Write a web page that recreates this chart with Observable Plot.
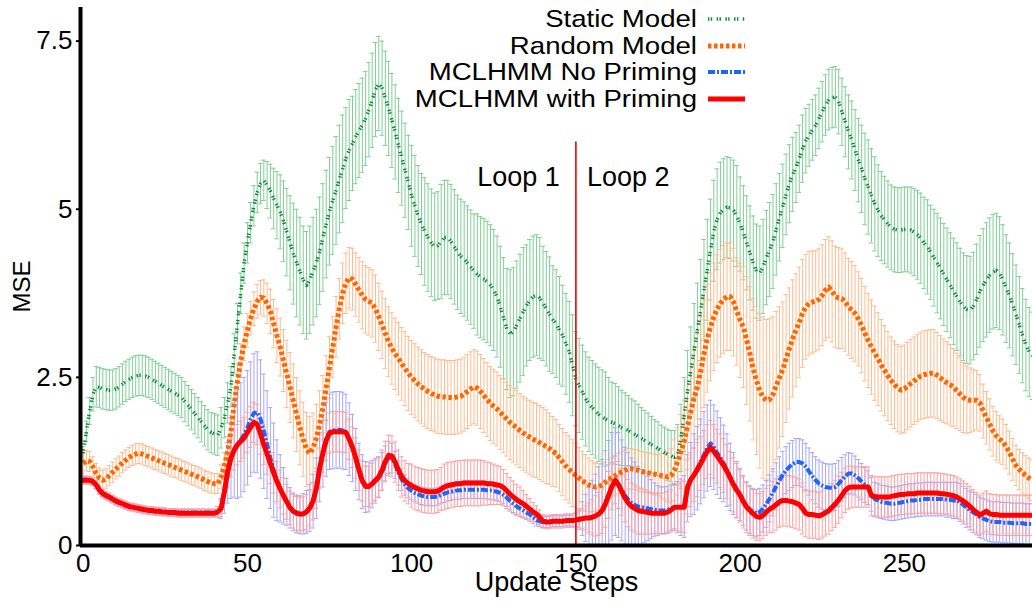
<!DOCTYPE html>
<html><head><meta charset="utf-8">
<script src="https://cdn.jsdelivr.net/npm/d3@7"></script>
<script src="https://cdn.jsdelivr.net/npm/@observablehq/plot@0.6"></script>
<style>
html,body{margin:0;padding:0;background:#fff;}
#wrap{position:relative;width:1032px;height:602px;font-family:"Liberation Sans",Arial,sans-serif;}
#legend{position:absolute;left:0;top:0;pointer-events:none;}
</style></head><body><div id="wrap"></div>
<script>
// ---------- data ----------
const steps = d3.range(0, 290);
const xTicks = [0, 50, 100, 150, 200, 250];
const yTicks = [0, 2.5, 5, 7.5];
const seriesNames = ["Static Model", "Random Model", "MCLHMM No Priming", "MCLHMM with Priming"];
const loopLabels = ["Loop 1", "Loop 2"];
const loopBoundary = 150;
const loopLineTop = 6.0;
const loopLabelY = 5.48;
const xLabel = "Update Steps";
const yLabel = "MSE";

const staticMean = [
1.37,1.7,2.0,2.25,2.36,2.35,2.33,2.32,2.31,2.31,
2.33,2.36,2.4,2.44,2.47,2.5,2.52,2.53,2.53,2.52,
2.5,2.47,2.44,2.41,2.38,2.35,2.32,2.29,2.26,2.23,
2.2,2.14,2.08,2.02,1.96,1.9,1.84,1.78,1.72,1.68,
1.66,1.64,1.75,1.9,2.12,2.36,2.85,3.3,3.75,4.2,
4.5,4.8,5.05,5.25,5.38,5.43,5.36,5.27,5.16,5.06,
4.96,4.82,4.66,4.5,4.34,4.2,4.08,3.95,3.87,3.95,
4.08,4.2,4.38,4.58,4.78,4.97,5.13,5.28,5.45,5.6,
5.76,5.88,5.98,6.08,6.17,6.25,6.35,6.48,6.62,6.78,
6.87,6.8,6.65,6.5,6.32,6.15,5.95,5.76,5.58,5.4,
5.2,5.05,4.9,4.78,4.67,4.58,4.5,4.44,4.46,4.52,
4.58,4.58,4.52,4.44,4.36,4.3,4.26,4.2,4.14,4.08,
4.03,3.99,3.96,3.92,3.87,3.8,3.7,3.55,3.38,3.22,
3.15,3.18,3.28,3.38,3.48,3.57,3.65,3.7,3.72,3.68,
3.6,3.52,3.44,3.36,3.3,3.2,3.12,3.0,2.88,2.68,
2.48,2.38,2.28,2.18,2.1,2.05,2.0,1.95,1.91,1.88,
1.85,1.83,1.81,1.78,1.75,1.73,1.71,1.68,1.65,1.62,
1.59,1.56,1.53,1.5,1.47,1.44,1.41,1.38,1.35,1.33,
1.31,1.35,1.6,1.95,2.3,2.6,2.9,3.2,3.5,3.8,
4.1,4.4,4.68,4.85,4.95,5.0,5.03,5.02,4.98,4.9,
4.78,4.65,4.5,4.35,4.2,4.08,4.05,4.15,4.28,4.4,
4.52,4.7,4.88,5.05,5.22,5.38,5.52,5.62,5.75,5.9,
6.02,6.1,6.18,6.25,6.35,6.45,6.55,6.63,6.66,6.67,
6.6,6.45,6.3,6.15,6.03,5.88,5.73,5.6,5.45,5.33,
5.2,5.08,4.98,4.9,4.84,4.78,4.73,4.7,4.69,4.69,
4.7,4.7,4.69,4.66,4.62,4.57,4.5,4.44,4.36,4.28,
4.2,4.12,4.03,3.95,3.87,3.78,3.7,3.62,3.55,3.51,
3.5,3.56,3.66,3.78,3.87,3.95,4.02,4.07,4.09,4.05,
3.95,3.82,3.72,3.58,3.43,3.28,3.12,2.98,2.88,2.82];
const staticErr = [
0.1,0.15,0.2,0.25,0.3,0.3,0.3,0.3,0.3,0.3,
0.3,0.3,0.3,0.3,0.3,0.3,0.3,0.3,0.3,0.3,
0.3,0.3,0.3,0.3,0.3,0.3,0.3,0.3,0.3,0.3,
0.3,0.3,0.3,0.3,0.3,0.3,0.3,0.3,0.3,0.3,
0.3,0.3,0.3,0.3,0.3,0.3,0.3,0.3,0.3,0.3,
0.3,0.3,0.3,0.3,0.3,0.3,0.35,0.4,0.45,0.5,
0.55,0.6,0.65,0.7,0.75,0.8,0.8,0.8,0.8,0.8,
0.8,0.8,0.8,0.8,0.8,0.8,0.8,0.8,0.8,0.8,
0.75,0.75,0.7,0.7,0.7,0.7,0.7,0.7,0.7,0.7,
0.7,0.7,0.7,0.7,0.7,0.7,0.7,0.7,0.7,0.7,
0.75,0.75,0.75,0.75,0.8,0.8,0.8,0.8,0.8,0.85,
0.85,0.85,0.85,0.85,0.85,0.85,0.85,0.85,0.85,0.85,
0.9,0.9,0.9,0.9,0.9,0.9,0.9,0.9,0.9,0.9,
0.95,0.95,0.95,0.95,0.95,0.9,0.9,0.9,0.9,0.9,
0.85,0.85,0.85,0.8,0.8,0.8,0.75,0.75,0.75,0.75,
0.7,0.7,0.7,0.7,0.7,0.7,0.7,0.7,0.7,0.7,
0.65,0.6,0.6,0.58,0.56,0.54,0.52,0.5,0.5,0.48,
0.46,0.45,0.44,0.42,0.4,0.4,0.38,0.38,0.38,0.38,
0.4,0.45,0.5,0.55,0.6,0.65,0.7,0.7,0.75,0.75,
0.75,0.75,0.75,0.75,0.75,0.75,0.75,0.75,0.75,0.75,
0.7,0.7,0.7,0.7,0.7,0.7,0.7,0.7,0.7,0.7,
0.7,0.68,0.65,0.62,0.6,0.58,0.55,0.52,0.5,0.5,
0.48,0.46,0.45,0.45,0.45,0.45,0.45,0.45,0.45,0.45,
0.48,0.5,0.52,0.55,0.58,0.6,0.62,0.65,0.68,0.7,
0.7,0.7,0.68,0.66,0.65,0.64,0.63,0.63,0.63,0.63,
0.63,0.63,0.64,0.65,0.66,0.67,0.68,0.7,0.7,0.72,
0.74,0.75,0.76,0.77,0.78,0.79,0.8,0.8,0.8,0.8,
0.8,0.8,0.82,0.83,0.84,0.85,0.85,0.85,0.85,0.84,
0.82,0.8,0.78,0.76,0.74,0.72,0.7,0.68,0.66,0.65];

const randomMean = [
1.22,1.26,1.25,1.17,1.07,1.0,0.97,0.99,1.04,1.09,
1.14,1.18,1.23,1.27,1.31,1.34,1.36,1.37,1.36,1.34,
1.32,1.3,1.28,1.26,1.24,1.22,1.2,1.18,1.16,1.14,
1.12,1.1,1.08,1.06,1.04,1.02,1.0,0.97,0.95,0.93,
0.92,0.92,1.02,1.18,1.4,1.7,2.1,2.45,2.75,3.0,
3.2,3.38,3.52,3.63,3.69,3.68,3.6,3.48,3.3,3.12,
2.95,2.75,2.55,2.35,2.15,1.95,1.75,1.58,1.43,1.37,
1.45,1.6,1.8,2.05,2.35,2.65,2.95,3.25,3.52,3.75,
3.9,3.98,3.96,3.88,3.8,3.72,3.66,3.63,3.6,3.52,
3.4,3.28,3.15,3.03,2.93,2.85,2.78,2.7,2.63,2.56,
2.5,2.45,2.4,2.36,2.32,2.29,2.26,2.24,2.22,2.21,
2.21,2.2,2.2,2.2,2.21,2.22,2.25,2.29,2.33,2.36,
2.34,2.29,2.23,2.17,2.11,2.07,2.03,1.98,1.93,1.88,
1.83,1.79,1.75,1.71,1.67,1.64,1.61,1.58,1.56,1.53,
1.5,1.47,1.44,1.4,1.37,1.3,1.24,1.18,1.13,1.08,
1.04,1.0,0.96,0.93,0.9,0.88,0.87,0.88,0.9,0.94,
0.98,1.01,1.04,1.07,1.1,1.12,1.14,1.14,1.13,1.12,
1.1,1.09,1.08,1.07,1.06,1.05,1.04,1.03,1.02,1.04,
1.12,1.25,1.4,1.56,1.78,2.0,2.2,2.36,2.6,2.85,
3.08,3.25,3.4,3.52,3.6,3.66,3.7,3.7,3.62,3.48,
3.35,3.25,3.05,2.85,2.62,2.45,2.3,2.2,2.16,2.17,
2.25,2.38,2.5,2.62,2.78,2.93,3.08,3.2,3.32,3.45,
3.55,3.6,3.62,3.63,3.66,3.72,3.8,3.84,3.78,3.7,
3.68,3.67,3.62,3.55,3.5,3.45,3.37,3.27,3.15,3.05,
2.95,2.86,2.77,2.68,2.6,2.52,2.45,2.39,2.34,2.31,
2.33,2.37,2.41,2.45,2.49,2.52,2.54,2.55,2.56,2.56,
2.53,2.49,2.45,2.42,2.39,2.35,2.3,2.25,2.2,2.17,
2.16,2.16,2.16,2.12,2.0,1.9,1.8,1.7,1.63,1.58,
1.54,1.47,1.38,1.28,1.19,1.13,1.08,1.04,1.0,0.97];
const randomErr = [
0.15,0.15,0.15,0.15,0.15,0.15,0.15,0.15,0.15,0.15,
0.15,0.15,0.15,0.15,0.15,0.15,0.15,0.15,0.15,0.15,
0.15,0.15,0.15,0.15,0.15,0.15,0.15,0.15,0.15,0.15,
0.15,0.15,0.15,0.15,0.15,0.15,0.15,0.15,0.15,0.15,
0.15,0.15,0.18,0.2,0.22,0.24,0.25,0.25,0.25,0.25,
0.25,0.25,0.25,0.25,0.25,0.27,0.3,0.33,0.36,0.4,
0.43,0.46,0.5,0.52,0.55,0.55,0.55,0.55,0.55,0.55,
0.52,0.5,0.5,0.48,0.47,0.46,0.45,0.45,0.45,0.45,
0.45,0.45,0.46,0.47,0.48,0.5,0.5,0.5,0.5,0.5,
0.5,0.5,0.52,0.52,0.53,0.53,0.54,0.54,0.55,0.55,
0.55,0.55,0.55,0.55,0.55,0.55,0.55,0.55,0.55,0.55,
0.55,0.55,0.55,0.55,0.55,0.55,0.55,0.55,0.55,0.55,
0.55,0.55,0.55,0.55,0.55,0.55,0.55,0.55,0.55,0.55,
0.55,0.55,0.55,0.55,0.55,0.55,0.55,0.55,0.55,0.55,
0.55,0.55,0.53,0.52,0.5,0.5,0.5,0.5,0.5,0.5,
0.48,0.46,0.44,0.42,0.4,0.38,0.36,0.34,0.32,0.3,
0.3,0.3,0.3,0.3,0.3,0.3,0.3,0.3,0.3,0.3,
0.3,0.3,0.3,0.3,0.3,0.3,0.32,0.34,0.36,0.4,
0.45,0.5,0.55,0.6,0.65,0.7,0.75,0.78,0.8,0.8,
0.8,0.8,0.8,0.8,0.8,0.8,0.8,0.8,0.8,0.8,
0.85,0.9,0.95,1.0,1.05,1.1,1.15,1.2,1.2,1.2,
1.15,1.1,1.05,1.0,0.95,0.9,0.87,0.84,0.82,0.8,
0.78,0.77,0.76,0.75,0.75,0.75,0.75,0.75,0.75,0.75,
0.75,0.74,0.73,0.72,0.72,0.71,0.7,0.7,0.7,0.7,
0.7,0.7,0.69,0.68,0.67,0.66,0.65,0.65,0.65,0.65,
0.65,0.65,0.65,0.65,0.65,0.65,0.65,0.65,0.65,0.65,
0.64,0.63,0.62,0.61,0.6,0.58,0.56,0.54,0.52,0.5,
0.48,0.46,0.44,0.42,0.4,0.39,0.38,0.37,0.36,0.35,
0.34,0.33,0.32,0.31,0.3,0.3,0.3,0.3,0.3,0.3];

const noPrimingMean = [
0.98,0.98,0.97,0.95,0.9,0.83,0.78,0.75,0.72,0.69,
0.66,0.64,0.62,0.6,0.58,0.57,0.56,0.55,0.54,0.53,
0.52,0.52,0.51,0.51,0.5,0.5,0.5,0.49,0.49,0.49,
0.49,0.49,0.49,0.49,0.49,0.49,0.49,0.49,0.49,0.49,
0.49,0.5,0.55,0.78,1.08,1.3,1.42,1.5,1.57,1.65,
1.75,1.88,1.97,1.98,1.88,1.7,1.5,1.3,1.12,0.97,
0.85,0.74,0.65,0.56,0.5,0.47,0.46,0.47,0.5,0.56,
0.66,0.85,1.15,1.4,1.58,1.69,1.71,1.72,1.72,1.71,
1.69,1.58,1.45,1.28,1.1,0.95,0.87,0.87,0.91,0.96,
1.01,1.1,1.22,1.31,1.3,1.2,1.08,0.98,0.9,0.85,
0.81,0.78,0.76,0.74,0.73,0.72,0.72,0.72,0.73,0.75,
0.77,0.79,0.8,0.81,0.82,0.82,0.83,0.83,0.83,0.83,
0.83,0.83,0.83,0.82,0.82,0.81,0.8,0.78,0.75,0.71,
0.66,0.62,0.58,0.55,0.52,0.49,0.46,0.42,0.38,0.36,
0.35,0.35,0.35,0.36,0.36,0.36,0.36,0.37,0.37,0.37,
0.38,0.39,0.4,0.41,0.41,0.42,0.44,0.47,0.53,0.63,
0.76,0.88,0.95,0.9,0.82,0.74,0.68,0.63,0.6,0.58,
0.57,0.56,0.55,0.54,0.53,0.52,0.52,0.52,0.53,0.55,
0.57,0.57,0.57,0.58,0.85,0.98,1.06,1.15,1.25,1.35,
1.45,1.52,1.46,1.38,1.3,1.22,1.12,1.02,0.92,0.83,
0.75,0.66,0.58,0.53,0.5,0.48,0.5,0.55,0.62,0.7,
0.79,0.88,0.97,1.05,1.12,1.17,1.21,1.24,1.24,1.22,
1.17,1.1,1.03,0.97,0.92,0.89,0.87,0.86,0.86,0.87,
0.92,0.98,1.03,1.07,1.07,1.04,1.0,0.95,0.9,0.86,
0.76,0.69,0.67,0.65,0.64,0.63,0.62,0.62,0.63,0.64,
0.65,0.66,0.67,0.67,0.68,0.68,0.69,0.69,0.69,0.69,
0.69,0.69,0.69,0.68,0.68,0.67,0.67,0.64,0.6,0.56,
0.52,0.49,0.46,0.42,0.4,0.38,0.36,0.35,0.35,0.35,
0.34,0.34,0.34,0.33,0.33,0.33,0.33,0.32,0.32,0.32];
const noPrimingErr = [
0.05,0.05,0.05,0.05,0.05,0.05,0.05,0.05,0.05,0.05,
0.05,0.05,0.05,0.05,0.05,0.05,0.05,0.05,0.05,0.05,
0.05,0.05,0.05,0.05,0.05,0.05,0.05,0.05,0.05,0.05,
0.05,0.05,0.05,0.05,0.05,0.05,0.05,0.05,0.05,0.05,
0.05,0.08,0.15,0.3,0.45,0.6,0.7,0.8,0.85,0.85,
0.85,0.85,0.88,0.9,0.88,0.85,0.8,0.75,0.7,0.6,
0.5,0.42,0.35,0.3,0.28,0.28,0.28,0.3,0.32,0.35,
0.4,0.45,0.5,0.53,0.55,0.56,0.57,0.57,0.57,0.57,
0.56,0.54,0.5,0.46,0.42,0.4,0.38,0.37,0.35,0.33,
0.3,0.28,0.26,0.24,0.22,0.2,0.18,0.16,0.15,0.14,
0.13,0.13,0.13,0.13,0.13,0.13,0.13,0.13,0.13,0.13,
0.13,0.13,0.13,0.13,0.13,0.13,0.13,0.13,0.13,0.13,
0.13,0.13,0.13,0.13,0.13,0.13,0.13,0.13,0.13,0.13,
0.13,0.13,0.12,0.12,0.11,0.1,0.1,0.09,0.09,0.08,
0.08,0.08,0.08,0.08,0.08,0.08,0.08,0.08,0.08,0.08,
0.1,0.15,0.25,0.35,0.45,0.55,0.62,0.7,0.75,0.78,
0.8,0.8,0.8,0.78,0.75,0.72,0.7,0.67,0.64,0.6,
0.56,0.52,0.48,0.44,0.4,0.37,0.35,0.35,0.35,0.35,
0.35,0.38,0.42,0.46,0.5,0.55,0.6,0.62,0.63,0.64,
0.64,0.64,0.63,0.62,0.6,0.57,0.54,0.5,0.46,0.42,
0.38,0.36,0.35,0.35,0.35,0.35,0.35,0.35,0.35,0.35,
0.35,0.35,0.35,0.35,0.35,0.35,0.35,0.35,0.35,0.35,
0.35,0.35,0.35,0.35,0.35,0.35,0.35,0.35,0.35,0.35,
0.34,0.33,0.32,0.31,0.3,0.29,0.28,0.27,0.26,0.25,
0.25,0.25,0.25,0.25,0.25,0.25,0.25,0.25,0.25,0.25,
0.25,0.25,0.25,0.25,0.25,0.25,0.25,0.25,0.25,0.25,
0.25,0.25,0.25,0.26,0.26,0.27,0.27,0.28,0.28,0.29,
0.29,0.3,0.3,0.3,0.3,0.3,0.3,0.3,0.3,0.3,
0.3,0.3,0.3,0.3,0.3,0.3,0.3,0.3,0.3,0.3];

const primingMean = [
0.97,0.97,0.97,0.95,0.9,0.82,0.77,0.74,0.72,0.69,
0.66,0.64,0.62,0.6,0.58,0.57,0.56,0.55,0.54,0.53,
0.52,0.52,0.51,0.51,0.5,0.5,0.49,0.49,0.49,0.48,
0.48,0.48,0.48,0.48,0.48,0.48,0.48,0.48,0.48,0.48,
0.48,0.5,0.55,0.8,1.1,1.3,1.42,1.5,1.55,1.6,
1.68,1.76,1.83,1.8,1.66,1.5,1.36,1.22,1.08,0.95,
0.84,0.74,0.65,0.56,0.51,0.48,0.47,0.47,0.5,0.56,
0.66,0.85,1.15,1.38,1.56,1.67,1.69,1.69,1.69,1.69,
1.68,1.58,1.46,1.3,1.12,0.96,0.88,0.88,0.92,0.97,
1.02,1.12,1.25,1.34,1.33,1.24,1.12,1.02,0.96,0.92,
0.89,0.86,0.84,0.82,0.81,0.8,0.8,0.8,0.81,0.84,
0.87,0.89,0.9,0.91,0.92,0.92,0.93,0.93,0.93,0.93,
0.93,0.93,0.93,0.92,0.92,0.91,0.9,0.89,0.86,0.81,
0.76,0.72,0.68,0.65,0.62,0.58,0.54,0.5,0.47,0.42,
0.36,0.35,0.35,0.36,0.36,0.36,0.36,0.37,0.37,0.37,
0.38,0.39,0.4,0.41,0.41,0.42,0.44,0.47,0.52,0.62,
0.75,0.88,0.97,0.9,0.8,0.7,0.63,0.58,0.55,0.52,
0.51,0.5,0.49,0.48,0.48,0.48,0.48,0.48,0.5,0.53,
0.57,0.57,0.57,0.57,0.87,0.98,1.05,1.13,1.22,1.31,
1.4,1.46,1.4,1.33,1.26,1.19,1.1,1.0,0.9,0.82,
0.75,0.65,0.57,0.52,0.47,0.43,0.42,0.45,0.5,0.54,
0.57,0.61,0.65,0.67,0.67,0.66,0.65,0.63,0.61,0.55,
0.48,0.46,0.46,0.45,0.44,0.46,0.49,0.52,0.57,0.62,
0.68,0.75,0.82,0.86,0.87,0.87,0.87,0.87,0.87,0.87,
0.74,0.73,0.72,0.72,0.72,0.72,0.73,0.74,0.75,0.76,
0.76,0.77,0.77,0.77,0.78,0.78,0.78,0.78,0.78,0.78,
0.78,0.77,0.77,0.76,0.75,0.74,0.72,0.69,0.66,0.62,
0.58,0.53,0.49,0.45,0.48,0.51,0.47,0.46,0.46,0.45,
0.45,0.45,0.45,0.45,0.45,0.45,0.45,0.45,0.45,0.45];
const primingErr = [
0.06,0.06,0.06,0.06,0.06,0.06,0.06,0.06,0.06,0.06,
0.06,0.06,0.06,0.06,0.06,0.06,0.06,0.06,0.06,0.06,
0.06,0.06,0.06,0.06,0.06,0.06,0.06,0.06,0.06,0.06,
0.06,0.06,0.06,0.06,0.06,0.06,0.06,0.06,0.06,0.06,
0.06,0.08,0.12,0.18,0.24,0.28,0.3,0.3,0.3,0.3,
0.3,0.3,0.3,0.3,0.3,0.3,0.3,0.3,0.3,0.3,
0.28,0.27,0.26,0.25,0.25,0.25,0.25,0.25,0.26,0.27,
0.28,0.3,0.3,0.3,0.3,0.3,0.3,0.3,0.3,0.3,
0.3,0.3,0.3,0.3,0.3,0.3,0.3,0.3,0.3,0.3,
0.3,0.3,0.3,0.3,0.3,0.3,0.3,0.3,0.3,0.3,
0.32,0.32,0.32,0.32,0.32,0.32,0.32,0.32,0.32,0.32,
0.34,0.34,0.34,0.34,0.34,0.34,0.34,0.34,0.34,0.34,
0.34,0.34,0.33,0.32,0.31,0.3,0.29,0.28,0.27,0.26,
0.25,0.24,0.23,0.22,0.2,0.18,0.16,0.14,0.12,0.11,
0.1,0.1,0.1,0.1,0.1,0.1,0.1,0.1,0.1,0.1,
0.1,0.12,0.15,0.18,0.22,0.26,0.3,0.32,0.34,0.35,
0.35,0.35,0.35,0.35,0.35,0.35,0.35,0.35,0.35,0.35,
0.34,0.33,0.32,0.31,0.3,0.3,0.3,0.3,0.3,0.3,
0.32,0.34,0.36,0.38,0.4,0.4,0.4,0.4,0.4,0.4,
0.4,0.4,0.4,0.4,0.4,0.4,0.4,0.4,0.4,0.4,
0.4,0.39,0.38,0.37,0.36,0.35,0.35,0.35,0.35,0.35,
0.38,0.38,0.38,0.38,0.38,0.38,0.38,0.38,0.38,0.38,
0.35,0.35,0.35,0.35,0.35,0.35,0.35,0.35,0.35,0.35,
0.35,0.34,0.33,0.32,0.31,0.3,0.3,0.3,0.3,0.3,
0.3,0.3,0.3,0.3,0.3,0.3,0.3,0.3,0.3,0.3,
0.3,0.3,0.3,0.3,0.3,0.3,0.3,0.3,0.3,0.3,
0.3,0.3,0.3,0.3,0.3,0.3,0.3,0.3,0.3,0.3,
0.3,0.3,0.3,0.3,0.3,0.3,0.3,0.3,0.3,0.3,
0.3,0.3,0.3,0.3,0.3,0.3,0.3,0.3,0.3,0.3];

// ---------- styles ----------
const FONT = '"Liberation Sans", Arial, Helvetica, sans-serif';
const series = [
  {name: seriesNames[0], mean: staticMean, err: staticErr, line: "#08893a", bar: "#80cf95", width: 3.5, dash: "1.4,1.4,1.4,4.5"},
  {name: seriesNames[1], mean: randomMean, err: randomErr, line: "#ff6600", bar: "#ffbb8e", width: 5, dash: "3.5,2.5"},
  {name: seriesNames[2], mean: noPrimingMean, err: noPrimingErr, line: "#1a66ff", bar: "#a6a6ff", width: 4, dash: "7,2,2,2"},
  {name: seriesNames[3], mean: primingMean, err: primingErr, line: "#ff0000", bar: "#ffa0a0", width: 5, dash: null}
];
series.forEach(s => {
  s.rows = steps.map((st, i) => ({s: st, v: s.mean[i], lo: s.mean[i] - s.err[i], hi: s.mean[i] + s.err[i]}));
});

const xDomain = [-0.8, 289];
const yDomain = [0, 8];
const capHalf = 0.7;

const marks = [];
series.forEach(s => {
  marks.push(Plot.ruleX(s.rows, {x: "s", y1: "lo", y2: "hi", stroke: s.bar, strokeWidth: 1, clip: true}));
  marks.push(Plot.ruleY(s.rows, {y: "hi", x1: d => d.s - capHalf, x2: d => d.s + capHalf, stroke: s.bar, strokeWidth: 1, clip: true}));
  marks.push(Plot.ruleY(s.rows, {y: "lo", x1: d => d.s - capHalf, x2: d => d.s + capHalf, stroke: s.bar, strokeWidth: 1, clip: true}));
});
series.forEach(s => {
  const o = {x: "s", y: "v", stroke: s.line, strokeWidth: s.width, clip: true, strokeLinejoin: "round"};
  if (s.dash) { o.strokeDasharray = s.dash; o.strokeLinecap = "butt"; }
  marks.push(Plot.line(s.rows, o));
});
// loop separator
marks.push(Plot.ruleX([loopBoundary], {y1: 0, y2: loopLineTop, stroke: "#ee0000", strokeWidth: 1.6}));
marks.push(Plot.text([loopLabels[0]], {x: loopBoundary, y: loopLabelY, text: d => d, textAnchor: "end", dx: -16, fontSize: 27, fill: "black"}));
marks.push(Plot.text([loopLabels[1]], {x: loopBoundary, y: loopLabelY, text: d => d, textAnchor: "start", dx: 11, fontSize: 27, fill: "black"}));
// axes
marks.push(Plot.axisY({ticks: yTicks, tickFormat: d => String(d), tickSize: 4, tickPadding: 4, fontSize: 26, label: null, stroke: "black", strokeWidth: 2}));
marks.push(Plot.axisX({ticks: xTicks, tickFormat: d => String(d), tickSize: 0, tickPadding: 8, fontSize: 26, label: null}));
marks.push(Plot.ruleY([yDomain[0]], {stroke: "black", strokeWidth: 4}));
marks.push(Plot.ruleX([xDomain[0]], {stroke: "black", strokeWidth: 4}));
marks.push(Plot.text([xLabel], {frameAnchor: "bottom", textAnchor: "middle", lineAnchor: "middle", dy: 37, fontSize: 27, fill: "black"}));
marks.push(Plot.text([yLabel], {frameAnchor: "left", textAnchor: "middle", lineAnchor: "middle", dx: -58, dy: 10, rotate: -90, fontSize: 24, fill: "black"}));

const chart = Plot.plot({
  width: 1032, height: 602,
  marginLeft: 80, marginRight: 0, marginTop: 7, marginBottom: 57,
  x: {domain: xDomain, axis: null},
  y: {domain: yDomain, axis: null},
  style: {fontFamily: FONT, fontSize: "26px", background: "white", color: "black"},
  marks
});
const wrap = document.getElementById("wrap");
wrap.appendChild(chart);

// ---------- legend (overlay, top-right inside plot) ----------
const leg = d3.select(wrap).append("svg").attr("id", "legend").attr("width", 1032).attr("height", 120)
  .style("font-family", FONT);
const rowY = [18, 45, 71, 98];
series.forEach((s, i) => {
  leg.append("text").attr("transform", `translate(697,${rowY[i]}) scale(1.15,1)`).attr("dy", "0.36em")
    .attr("text-anchor", "end").attr("font-size", 24).attr("fill", "black").text(s.name);
  const ln = leg.append("line").attr("x1", 708).attr("x2", 745).attr("y1", rowY[i] + 1).attr("y2", rowY[i] + 1)
    .attr("stroke", s.line).attr("stroke-width", s.width);
  if (s.dash) ln.attr("stroke-dasharray", s.dash);
});
</script></body></html>
